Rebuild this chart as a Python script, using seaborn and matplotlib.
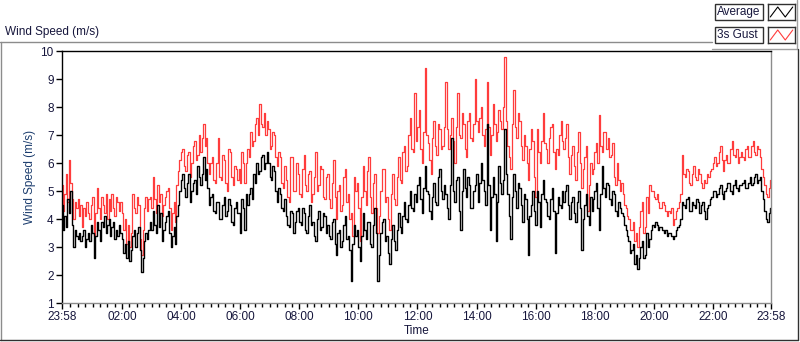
import numpy as np
import pandas as pd
import matplotlib
matplotlib.use("Agg")
import matplotlib.pyplot as plt
from matplotlib.lines import Line2D
from matplotlib.patches import Rectangle
import seaborn as sns

sns.set_theme(style="white")
plt.rcParams['font.family'] = ['Liberation Sans', 'DejaVu Sans']

# lecturas cada 3 minutos, de 23:58 a 23:58 (una fila = una hora)
avg_speed = [
    4.5, 3.6, 4.1, 3.7, 4.7, 4.2, 5.0, 3.8, 3.0, 3.6, 3.4, 3.3, 3.5, 3.2, 3.4, 3.6, 3.0, 3.3, 3.5, 3.2,
    3.8, 3.5, 2.6, 3.4, 3.9, 3.6, 3.2, 3.9, 3.7, 4.1, 3.5, 3.8, 4.0, 3.4, 3.7, 3.9, 3.3, 3.6, 3.4, 3.8,
    3.5, 3.3, 2.8, 3.1, 2.6, 3.2, 2.5, 2.9, 3.4, 3.6, 3.0, 3.5, 3.7, 2.9, 2.1, 2.6, 3.2, 3.5, 3.3, 3.6,
    3.9, 3.6, 4.3, 3.8, 3.5, 4.5, 3.7, 4.2, 3.2, 3.6, 3.9, 4.1, 4.3, 3.5, 3.0, 3.4, 3.7, 3.1, 4.1, 4.5,
    5.0, 5.4, 5.6, 5.1, 4.8, 5.3, 5.6, 4.6, 5.0, 5.3, 5.4, 4.9, 5.9, 5.5, 5.2, 5.6, 6.2, 5.4, 5.8, 5.1,
    4.5, 4.8, 4.9, 4.3, 4.2, 4.6, 4.6, 4.0, 4.0, 4.5, 4.8, 4.1, 4.3, 4.7, 4.5, 3.9, 3.8, 4.4, 4.6, 4.2,
    4.2, 3.5, 4.7, 4.4, 3.6, 4.9, 4.5, 4.9, 5.1, 4.7, 5.6, 5.3, 6.0, 5.6, 5.7, 6.2, 6.3, 5.8, 6.0, 6.4,
    6.0, 5.5, 5.4, 5.9, 5.7, 5.0, 4.6, 5.1, 4.9, 4.4, 4.3, 4.7, 4.1, 3.8, 3.7, 4.3, 4.2, 3.5, 3.9, 4.3,
    4.4, 3.9, 3.8, 4.4, 4.2, 3.6, 3.5, 4.1, 4.5, 3.8, 3.9, 3.4, 3.2, 4.0, 4.3, 3.6, 3.7, 4.2, 4.1, 3.5,
    3.8, 3.4, 3.3, 3.9, 4.0, 3.1, 2.7, 3.5, 3.6, 3.0, 3.2, 3.8, 4.1, 3.3, 3.4, 2.9, 1.8, 3.1, 3.8, 3.4,
    3.6, 3.0, 2.5, 3.4, 4.2, 3.6, 3.3, 3.9, 3.9, 3.1, 3.0, 3.8, 4.4, 3.5, 1.8, 2.7, 3.5, 3.9, 4.0, 3.2,
    3.4, 2.8, 2.4, 3.3, 3.8, 3.2, 2.9, 3.6, 4.2, 3.7, 3.5, 4.1, 4.6, 4.0, 3.9, 4.5, 5.0, 4.4, 4.3, 4.9,
    4.6, 5.2, 5.5, 4.7, 4.2, 5.1, 5.9, 5.0, 4.9, 4.3, 4.0, 4.8, 5.3, 4.6, 4.5, 5.5, 5.8, 5.0, 4.7, 5.2,
    4.9, 4.4, 4.0, 5.2, 6.9, 5.0, 4.6, 5.4, 5.5, 4.3, 3.6, 5.0, 5.8, 5.1, 4.8, 5.5, 5.2, 4.4, 4.4, 5.0,
    5.2, 5.6, 4.6, 5.3, 6.0, 5.4, 5.0, 4.5, 7.4, 5.2, 3.6, 4.8, 5.5, 4.9, 3.2, 4.6, 5.9, 5.3, 4.9, 5.4,
    7.2, 5.6, 4.9, 4.1, 3.3, 4.8, 5.6, 5.0, 4.4, 5.3, 5.1, 4.5, 3.9, 4.9, 4.7, 4.0, 2.7, 4.1, 4.5, 5.0,
    4.3, 3.8, 5.0, 4.6, 3.7, 4.9, 5.4, 4.7, 4.6, 4.1, 4.0, 4.7, 5.1, 4.3, 2.8, 4.2, 4.8, 4.5, 4.4, 5.0,
    4.6, 5.0, 5.2, 4.5, 4.0, 4.6, 4.8, 4.2, 3.9, 4.6, 5.0, 4.4, 2.9, 4.0, 4.5, 4.9, 4.1, 3.8, 4.8, 4.3,
    4.7, 5.0, 5.3, 4.4, 3.6, 4.9, 5.9, 5.1, 4.8, 5.3, 5.2, 4.7, 4.5, 5.0, 4.9, 4.3, 4.1, 4.6, 4.4, 4.2,
    4.1, 3.8, 3.6, 3.4, 3.2, 2.8, 2.9, 3.1, 2.4, 2.7, 2.2, 2.6, 3.0, 3.2, 2.6, 2.7, 3.5, 3.0, 3.3, 3.6,
    3.8, 3.7, 3.9, 3.8, 3.6, 3.7, 3.7, 3.6, 3.5, 3.6, 3.4, 3.5, 3.5, 3.4, 3.3, 3.4, 3.6, 3.7, 3.8, 4.0,
    4.6, 4.5, 4.4, 4.7, 4.8, 4.3, 4.3, 4.6, 4.5, 4.4, 4.7, 4.6, 4.2, 4.5, 4.6, 4.3, 4.0, 4.4, 4.5, 4.7,
    4.8, 5.0, 5.0, 4.8, 4.9, 5.1, 5.2, 4.9, 4.7, 5.0, 5.1, 5.3, 5.3, 5.0, 4.9, 5.2, 5.4, 5.1, 5.0, 5.2,
    5.2, 5.3, 5.4, 5.1, 5.1, 5.3, 5.5, 5.2, 5.3, 5.5, 5.6, 5.3, 5.4, 5.5, 5.0, 4.7, 4.3, 4.0, 3.9, 4.2,
    4.4,
]

gust_speed = [
    5.2, 4.3, 4.9, 5.6, 4.6, 6.1, 5.3, 4.7, 4.0, 4.6, 4.4, 4.7, 4.1, 4.5, 3.7, 4.4, 4.1, 4.6, 4.2, 4.0,
    4.5, 4.8, 3.4, 4.2, 5.1, 4.4, 4.0, 4.8, 4.5, 4.2, 4.9, 4.0, 4.7, 4.3, 4.9, 4.4, 4.1, 4.8, 4.6, 4.3,
    4.6, 4.2, 3.6, 4.0, 3.1, 3.8, 3.0, 3.5, 4.9, 4.4, 4.2, 4.8, 4.5, 3.3, 2.7, 3.6, 4.4, 4.8, 4.3, 4.7,
    4.8, 4.4, 5.5, 4.7, 4.2, 5.2, 4.6, 4.9, 4.1, 4.5, 4.8, 5.0, 5.1, 4.4, 3.6, 4.2, 4.6, 3.9, 5.2, 5.7,
    6.1, 6.4, 6.5, 5.9, 5.7, 6.3, 6.4, 5.5, 6.0, 6.6, 6.8, 6.1, 6.3, 7.0, 6.4, 6.9, 7.4, 6.6, 6.9, 6.0,
    5.6, 6.0, 6.2, 5.4, 5.3, 6.0, 6.9, 5.5, 5.4, 6.3, 6.1, 5.3, 5.0, 6.5, 6.4, 5.5, 5.2, 5.9, 5.8, 5.4,
    5.8, 5.3, 6.4, 6.0, 5.3, 6.0, 6.5, 6.2, 7.1, 6.6, 6.8, 7.4, 7.6, 7.0, 8.1, 7.4, 7.3, 7.8, 7.0, 7.5,
    7.2, 6.5, 6.6, 7.1, 7.0, 6.2, 5.9, 6.4, 6.2, 5.3, 5.1, 5.9, 5.4, 4.8, 4.6, 6.2, 6.2, 5.0, 5.0, 6.0,
    5.6, 4.9, 4.8, 5.8, 6.3, 5.2, 5.0, 5.6, 5.7, 4.6, 4.9, 5.5, 6.4, 5.0, 5.2, 5.9, 5.8, 4.8, 4.7, 5.5,
    5.6, 4.7, 4.4, 5.3, 6.1, 4.8, 4.0, 5.0, 5.2, 4.3, 4.5, 5.5, 5.8, 4.6, 4.9, 4.0, 4.2, 3.4, 5.5, 5.0,
    5.3, 4.4, 3.2, 4.8, 5.9, 5.0, 4.5, 5.7, 6.2, 4.8, 4.2, 5.3, 5.6, 4.4, 3.5, 4.1, 5.0, 5.8, 5.8, 4.6,
    4.8, 4.0, 3.6, 4.9, 5.6, 4.7, 4.5, 5.5, 6.2, 5.4, 5.3, 6.4, 6.6, 5.7, 5.9, 7.0, 7.6, 6.5, 6.4, 8.5,
    6.8, 7.3, 7.9, 6.5, 6.0, 7.1, 9.4, 7.0, 6.7, 6.1, 5.6, 6.9, 7.5, 6.6, 6.3, 7.4, 7.2, 6.5, 6.6, 7.3,
    8.9, 7.2, 6.5, 7.0, 7.6, 6.8, 6.0, 7.3, 8.5, 7.0, 6.9, 7.8, 7.4, 6.5, 6.2, 7.5, 7.8, 6.9, 6.8, 7.4,
    9.0, 7.5, 7.1, 7.6, 8.0, 7.0, 6.6, 7.2, 8.9, 7.3, 6.3, 7.0, 8.1, 7.4, 6.8, 7.1, 7.9, 7.5, 7.2, 8.0,
    9.8, 7.5, 6.6, 6.2, 5.8, 7.4, 8.6, 7.3, 6.9, 7.8, 7.5, 6.6, 6.1, 7.0, 6.6, 6.0, 5.4, 6.5, 7.2, 6.8,
    5.5, 4.8, 7.2, 6.4, 6.0, 6.8, 7.8, 6.7, 6.5, 6.0, 6.9, 7.3, 7.4, 6.4, 5.8, 6.5, 6.3, 7.0, 7.5, 6.8,
    6.5, 6.9, 7.4, 6.2, 5.6, 6.3, 6.6, 5.9, 5.4, 6.4, 7.1, 6.0, 5.1, 5.8, 6.2, 6.6, 4.3, 5.2, 6.0, 5.6,
    5.8, 6.4, 6.7, 6.0, 7.7, 6.6, 6.4, 7.1, 7.1, 6.5, 6.9, 6.2, 6.3, 6.7, 5.5, 5.2, 6.0, 5.4, 5.0, 5.3,
    4.9, 4.5, 4.4, 4.1, 4.0, 3.6, 3.6, 3.9, 3.2, 3.5, 3.0, 3.7, 4.3, 4.6, 3.5, 3.7, 4.8, 4.2, 5.2, 5.0,
    5.0, 4.8, 4.7, 4.9, 4.6, 4.4, 4.4, 4.6, 4.5, 4.3, 4.1, 4.3, 4.2, 4.4, 3.8, 4.0, 4.3, 4.4, 4.6, 4.9,
    6.3, 5.6, 5.5, 5.8, 5.7, 5.3, 5.2, 5.6, 5.9, 5.5, 5.4, 5.8, 5.6, 5.3, 5.1, 5.4, 5.3, 5.6, 5.5, 5.7,
    5.8, 6.0, 6.2, 5.9, 6.0, 6.4, 6.6, 6.1, 5.7, 6.1, 6.3, 6.0, 6.0, 6.5, 6.8, 6.3, 6.2, 6.5, 6.0, 6.2,
    6.4, 6.2, 6.1, 6.5, 6.6, 6.2, 6.2, 6.6, 6.8, 6.4, 6.3, 6.6, 6.5, 6.2, 5.8, 5.5, 5.2, 4.9, 4.8, 5.1,
    5.4,
]

x_tick_labels = ["23:58", "02:00", "04:00", "06:00", "08:00", "10:00", "12:00",
                 "14:00", "16:00", "18:00", "20:00", "22:00", "23:58"]

# minutos desde medianoche; arranca a las 23:58 del dia anterior
minutes = np.arange(len(avg_speed)) * 3 - 2
df = pd.DataFrame({"min": minutes, "Average": avg_speed, "3s Gust": gust_speed})

W, H = 800, 342
fig = plt.figure(figsize=(W / 100, H / 100), dpi=100)
fig.patch.set_facecolor("white")
ax = fig.add_axes([62 / W, 1 - 303 / H, (771 - 62) / W, (303 - 51) / H])

# trazo escalonado, como lo dibuja LabVIEW
sns.lineplot(data=df, x="min", y="3s Gust", color="#ff3c3c", lw=0.9,
             drawstyle="steps-mid", ax=ax)
sns.lineplot(data=df, x="min", y="Average", color="black", lw=1.0,
             drawstyle="steps-mid", ax=ax)

ax.set_xlim(minutes[0], minutes[-1])
ax.set_ylim(1, 10)

txt_col = "#16163c"
major_x = [minutes[0]] + list(range(120, 1321, 120)) + [minutes[-1]]
ax.set_xticks(major_x)
ax.set_xticklabels(x_tick_labels)
ax.set_xticks([m for m in range(15, 1438, 15) if m % 120 != 0], minor=True)
ax.set_yticks(range(1, 11))
ax.tick_params(axis="both", which="major", direction="out", length=4, width=1,
               color="black", labelsize=8.5, labelcolor=txt_col, pad=2,
               bottom=True, left=True)
ax.tick_params(axis="x", which="minor", direction="out", length=3, width=1,
               color="black", bottom=True)

ax.set_xlabel("Time", fontsize=8.5, color=txt_col, labelpad=1)
ax.set_ylabel("Wind Speed (m/s)", fontsize=8.5, color="#1c3d6e", labelpad=3)
ax.grid(False)

for side in ["left", "top"]:
    ax.spines[side].set_color("black")
for side in ["right", "bottom"]:
    ax.spines[side].set_color("#8c8c8c")
for sp in ax.spines.values():
    sp.set_linewidth(1)

def px_line(x0, y0, x1, y1, color, lw=1):
    fig.add_artist(Line2D([x0 / W, x1 / W], [1 - y0 / H, 1 - y1 / H],
                          color=color, lw=lw, transform=fig.transFigure))

# marco estilo LabVIEW
px_line(1, 42, 1, 340, "#8c8c8c")
px_line(0, 42, 712, 42, "#8c8c8c")
px_line(712, 49, 797, 49, "#a0a0a0")
px_line(797, 0, 797, 49, "#a0a0a0")
px_line(798, 49, 798, 340, "#303030")
px_line(0, 340, 798, 340, "#303030")

fig.text(5 / W, 1 - 32 / H, "Wind Speed (m/s)", fontsize=8.5, color=txt_col,
         ha="left", va="center")

# leyenda
for (label, col, y0) in [("Average", "black", 4), ("3s Gust", "#ff3c3c", 27)]:
    fig.add_artist(Rectangle((715 / W, 1 - (y0 + 16) / H), 48 / W, 16 / H,
                             fill=False, ec="#303030", lw=1, transform=fig.transFigure))
    fig.text(717 / W, 1 - (y0 + 8.5) / H, label, fontsize=8.5, color=txt_col,
             ha="left", va="center")
    lax = fig.add_axes([768 / W, 1 - (y0 + 16) / H, 27 / W, 16 / H])
    lax.plot([0, 1, 2, 3], [0, 1, 0, 1], color=col, lw=0.8)
    lax.set_xlim(-0.3, 3.3)
    lax.set_ylim(-0.3, 1.3)
    lax.set_xticks([])
    lax.set_yticks([])
    for sp in lax.spines.values():
        sp.set_color("#303030")
        sp.set_linewidth(1)

fig.savefig("out.png", dpi=100)
